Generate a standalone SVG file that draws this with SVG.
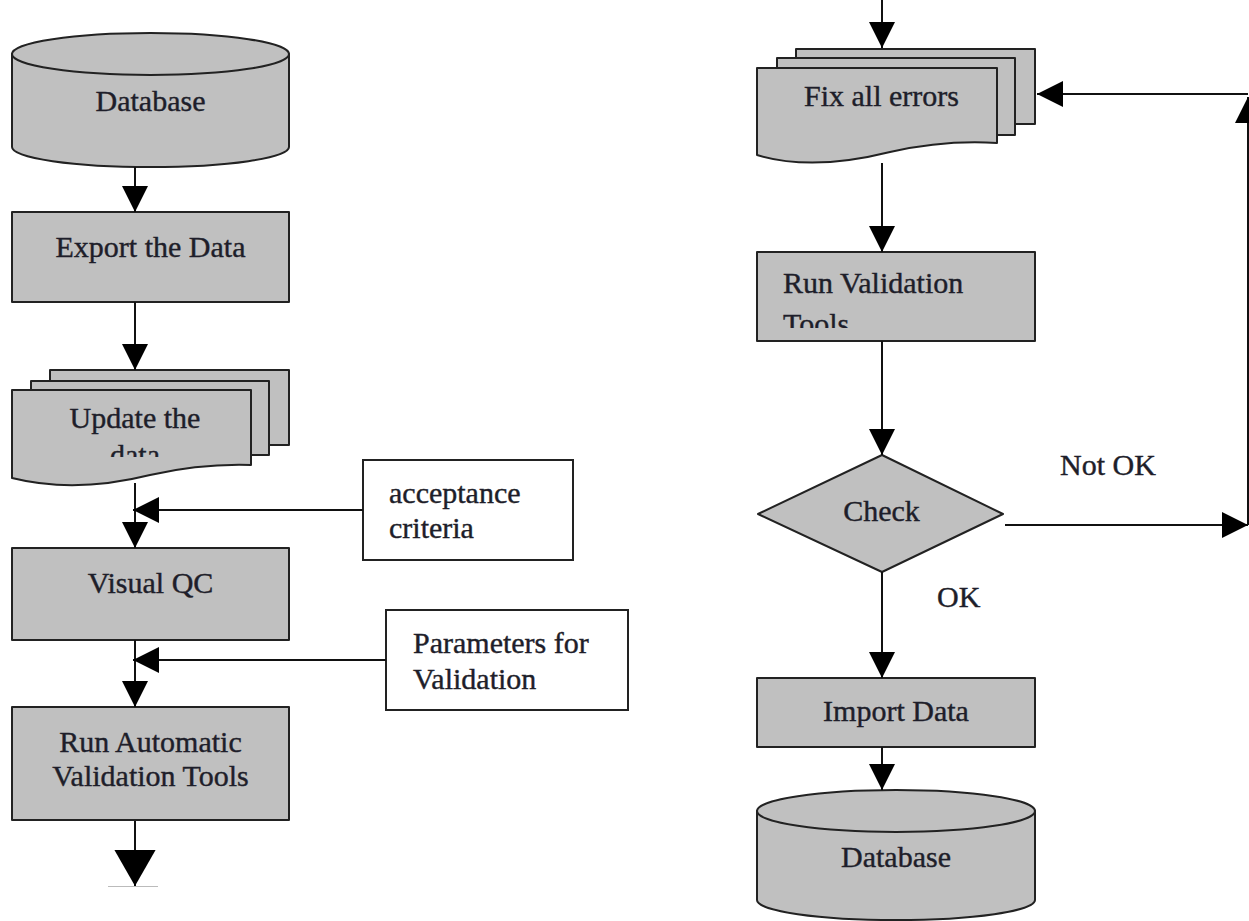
<svg xmlns="http://www.w3.org/2000/svg" width="1249" height="921" viewBox="0 0 1249 921">
  <style>
    .shape { fill: #c0c0c0; stroke: #222; stroke-width: 2; stroke-linejoin: round; }
    .box { fill: #fff; stroke: #222; stroke-width: 2; }
    .t { font-family: "Liberation Serif", "Times New Roman", serif; font-size: 30px; fill: #1e1e2a; stroke: #1e1e2a; stroke-width: 0.4; }
    .c { text-anchor: middle; }
    .conn { stroke: #111; stroke-width: 2; fill: none; }
  </style>
  <defs>
    <marker id="ah" markerUnits="userSpaceOnUse" markerWidth="26" markerHeight="26" refX="25" refY="12.5" orient="auto" viewBox="0 0 25 25">
      <path d="M0,0 L25,12.5 L0,25 Z" fill="#000"/>
    </marker>
    <marker id="ahBig" markerUnits="userSpaceOnUse" markerWidth="36" markerHeight="42" refX="35" refY="20" orient="auto" viewBox="0 0 35 40">
      <path d="M0,0 L35,20 L0,40 Z" fill="#000"/>
    </marker>
    <clipPath id="clipData"><rect x="12" y="390" width="240" height="67"/></clipPath>
    <clipPath id="clipTools"><rect x="757" y="252" width="278" height="76"/></clipPath>
  </defs>

  <!-- Left column -->
  <g id="db-top">
    <path class="shape" d="M12,54 L12,147 A138.5,20 0 0 0 289,147 L289,54 Z"/>
    <ellipse class="shape" cx="150.5" cy="54" rx="138.5" ry="21"/>
    <text class="t c" x="150.5" y="111">Database</text>
  </g>

  <g id="export">
    <rect class="shape" x="12" y="212" width="277" height="90"/>
    <text class="t c" x="150.5" y="257">Export the Data</text>
  </g>

  <g id="update">
    <rect class="shape" x="50" y="370" width="239" height="75"/>
    <rect class="shape" x="31" y="381" width="238" height="74"/>
    <path class="shape" d="M12,390 H251 V465 C220,464 190,466 150,475 C110,485 60,490 12,478 Z"/>
    <text class="t c" x="135" y="428">Update the</text>
    <text class="t c" x="135" y="465" clip-path="url(#clipData)">data</text>
  </g>

  <g id="acceptance">
    <rect class="box" x="363" y="460" width="210" height="100"/>
    <text class="t" x="389" y="503">acceptance</text>
    <text class="t" x="389" y="538">criteria</text>
  </g>

  <g id="visualqc">
    <rect class="shape" x="12" y="548" width="277" height="92"/>
    <text class="t c" x="150.5" y="593">Visual QC</text>
  </g>

  <g id="params">
    <rect class="box" x="386" y="610" width="242" height="100"/>
    <text class="t" x="413" y="653">Parameters for</text>
    <text class="t" x="413" y="689">Validation</text>
  </g>

  <g id="runauto">
    <rect class="shape" x="12" y="707" width="277" height="113"/>
    <text class="t c" x="150.5" y="752">Run Automatic</text>
    <text class="t c" x="150.5" y="786">Validation Tools</text>
  </g>

  <!-- Right column -->
  <g id="fix">
    <rect class="shape" x="796" y="49" width="239" height="75"/>
    <rect class="shape" x="777" y="58" width="238" height="77"/>
    <path class="shape" d="M757,68 H997 V143 C965,141 930,143 890,152 C850,162 800,168 757,155 Z"/>
    <text class="t c" x="881.5" y="106">Fix all errors</text>
  </g>

  <g id="runval">
    <rect class="shape" x="757" y="252" width="278" height="89"/>
    <text class="t" x="783" y="293">Run Validation</text>
    <text class="t" x="783" y="334" clip-path="url(#clipTools)">Tools</text>
  </g>

  <g id="check">
    <path class="shape" d="M882,455 L1003,514 L882,572 L758,514 Z"/>
    <text class="t c" x="881.5" y="521">Check</text>
  </g>

  <g id="import">
    <rect class="shape" x="757" y="678" width="278" height="69"/>
    <text class="t c" x="896" y="721">Import Data</text>
  </g>

  <g id="db-bottom">
    <path class="shape" d="M757,811 L757,900 A139,20 0 0 0 1035,900 L1035,811 Z"/>
    <ellipse class="shape" cx="896" cy="811" rx="139" ry="21"/>
    <text class="t c" x="896" y="867">Database</text>
  </g>

  <!-- Connectors -->
  <g id="connectors">
    <line class="conn" x1="135" y1="167" x2="135" y2="212" marker-end="url(#ah)"/>
    <line class="conn" x1="135" y1="302" x2="135" y2="370" marker-end="url(#ah)"/>
    <line class="conn" x1="135" y1="483" x2="135" y2="548" marker-end="url(#ah)"/>
    <line class="conn" x1="363" y1="510" x2="133" y2="510" marker-end="url(#ah)"/>
    <line class="conn" x1="135" y1="640" x2="135" y2="707" marker-end="url(#ah)"/>
    <line class="conn" x1="386" y1="660" x2="133" y2="660" marker-end="url(#ah)"/>
    <line class="conn" x1="135" y1="821" x2="135" y2="886" marker-end="url(#ahBig)"/>
    <line x1="108" y1="886.5" x2="158" y2="886.5" stroke="#bbb" stroke-width="1"/>

    <line class="conn" x1="882" y1="0" x2="882" y2="48" marker-end="url(#ah)"/>
    <line class="conn" x1="882" y1="163" x2="882" y2="252" marker-end="url(#ah)"/>
    <line class="conn" x1="882" y1="341" x2="882" y2="455" marker-end="url(#ah)"/>
    <line class="conn" x1="1005" y1="525" x2="1248" y2="525" marker-end="url(#ah)"/>
    <line class="conn" x1="1248" y1="525" x2="1248" y2="97" marker-end="url(#ah)"/>
    <line class="conn" x1="1248" y1="94" x2="1037" y2="94" marker-end="url(#ah)"/>
    <line class="conn" x1="882" y1="572" x2="882" y2="678" marker-end="url(#ah)"/>
    <line class="conn" x1="882" y1="747" x2="882" y2="790" marker-end="url(#ah)"/>
    <text class="t" x="1060" y="475">Not OK</text>
    <text class="t" x="937" y="607">OK</text>
  </g>
</svg>
